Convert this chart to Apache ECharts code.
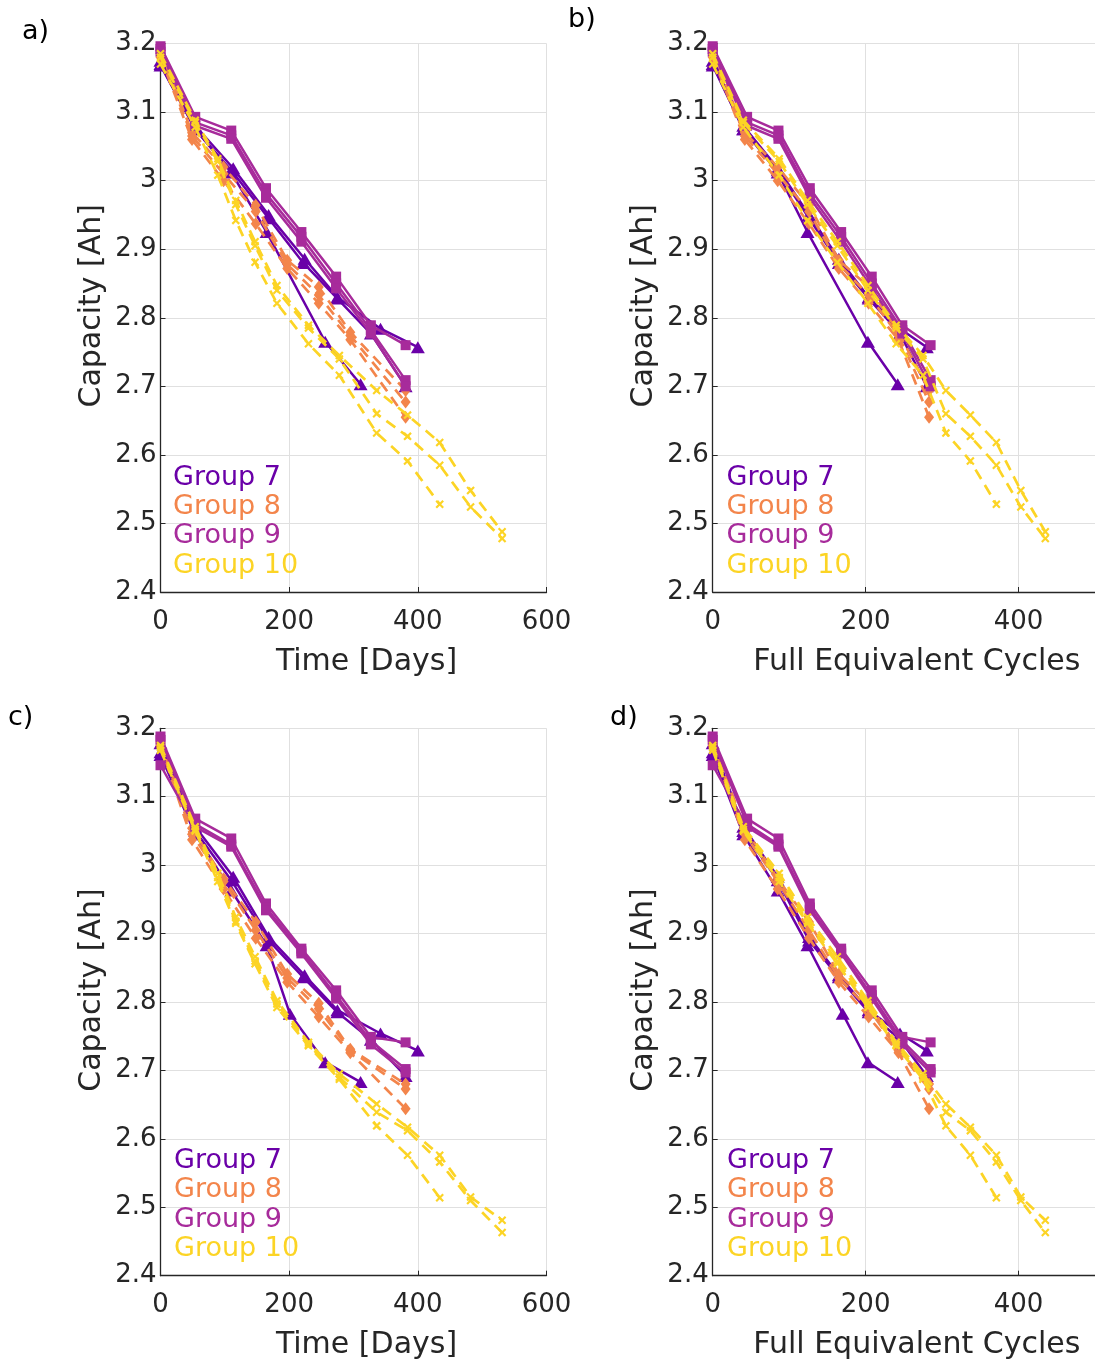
<!DOCTYPE html>
<html>
<head>
<meta charset="utf-8">
<title>Capacity fade</title>
<script src="https://cdn.jsdelivr.net/npm/echarts@6/dist/echarts.min.js"></script>
<style>
  html, body { margin: 0; padding: 0; background: #ffffff; }
  #chart { width: 1095px; height: 1362px; }
</style>
</head>
<body>
<div id="chart"></div>
<script>
// ---- measured data: time in days, full equivalent cycles, capacity [Ah] ----
// capTop feeds the upper row (a, b), capBottom feeds the lower row (c, d)

// Group 7
const g7aDays = [0, 54, 113, 168, 224, 275, 342, 400];
const g7aFec = [0, 40, 85, 126, 165, 204, 245, 280];
const g7aCapTop = [3.175, 3.080, 3.018, 2.950, 2.886, 2.830, 2.784, 2.757];
const g7aCapBottom = [3.178, 3.056, 2.983, 2.895, 2.839, 2.788, 2.754, 2.729];

const g7bDays = [0, 54, 110, 168, 222, 275, 327, 381];
const g7bFec = [0, 40, 85, 126, 165, 204, 245, 280];
const g7bCapTop = [3.170, 3.075, 3.015, 2.945, 2.880, 2.828, 2.777, 2.700];
const g7bCapBottom = [3.165, 3.050, 2.978, 2.890, 2.836, 2.785, 2.745, 2.692];

const g7cDays = [0, 54, 110, 165, 201, 256, 311];
const g7cFec = [0, 40, 85, 124, 170, 203, 242];
const g7cCapTop = [3.168, 3.075, 3.012, 2.925, null, 2.765, 2.703];
const g7cCapBottom = [3.161, 3.045, 2.963, 2.883, 2.783, 2.712, 2.683];

// Group 8
const g8Days = [0, 49, 98, 148, 197, 246, 295, 381];
const g8Fec = [0, 42, 85, 126, 165, 204, 243, 283];
const g8aCapTop = [3.190, 3.070, 3.020, 2.964, 2.884, 2.845, 2.779, 2.694];
const g8bCapTop = [3.185, 3.065, 3.010, 2.955, 2.878, 2.833, 2.774, 2.677];
const g8cCapTop = [3.180, 3.060, 3.000, 2.937, 2.872, 2.821, 2.768, 2.655];
const g8aCapBottom = [3.180, 3.054, 2.980, 2.917, 2.841, 2.798, 2.731, 2.680];
const g8bCapBottom = [3.178, 3.045, 2.976, 2.905, 2.835, 2.790, 2.729, 2.673];
const g8cCapBottom = [3.175, 3.037, 2.965, 2.893, 2.829, 2.778, 2.726, 2.644];

// Group 9
const g9Days = [0, 54, 110, 164, 219, 273, 327, 381];
const g9Fec = [0, 45, 86, 127, 168, 208, 248, 285];
const g9aCapTop = [3.196, 3.093, 3.073, 2.989, 2.925, 2.860, 2.789, 2.760];
const g9bCapTop = [3.192, 3.085, 3.066, 2.981, 2.918, 2.850, 2.782, 2.709];
const g9cCapTop = [3.188, 3.080, 3.061, 2.975, 2.911, 2.843, 2.777, 2.700];
const g9aCapBottom = [3.188, 3.068, 3.039, 2.944, 2.878, 2.817, 2.749, 2.741];
const g9bCapBottom = [3.183, 3.060, 3.030, 2.938, 2.874, 2.810, 2.743, 2.702];
const g9cCapBottom = [3.146, 3.056, 3.027, 2.934, 2.871, 2.805, 2.738, 2.697];

// Group 10
const g10Days = [0, 54, 89, 117, 147, 181, 230, 278, 336, 384, 434, 482, 531];
const g10Fec = [0, 40, 87, 124, 163, 203, 240, 275, 305, 337, 371, 403, 435];
const g10aCapTop = [3.185, 3.088, 3.032, 2.971, 2.911, 2.847, 2.789, 2.745, 2.694, 2.658, 2.618, 2.548, 2.488];
const g10bCapTop = [3.180, 3.085, 3.028, 2.965, 2.905, 2.840, 2.785, 2.740, 2.660, 2.627, 2.585, 2.524, 2.478];
const g10cCapTop = [3.170, 3.078, 3.008, 2.942, 2.881, 2.821, 2.762, 2.716, 2.632, 2.591, 2.528];
const g10aCapBottom = [3.175, 3.056, 2.988, 2.924, 2.866, 2.802, 2.741, 2.695, 2.651, 2.617, 2.576, 2.515, 2.481];
const g10bCapBottom = [3.172, 3.052, 2.982, 2.918, 2.860, 2.797, 2.738, 2.690, 2.639, 2.612, 2.566, 2.510, 2.463];
const g10cCapBottom = [3.168, 3.050, 2.976, 2.915, 2.856, 2.792, 2.736, 2.687, 2.619, 2.576, 2.514];

// axis ranges and tick labels
const groupNames = ['Group 7', 'Group 8', 'Group 9', 'Group 10'];
const capacityTicks = { min: 2.4, max: 3.2, step: 0.1 };
const timeTicks = { min: 0, max: 600, step: 200 };
const fecTicks = { min: 0, max: 500, step: 200 };
const panelLetters = ['a)', 'b)', 'c)', 'd)'];

// ---- cells ----
const cells = [
  { g: 0, days: g7aDays, fec: g7aFec, capTop: g7aCapTop, capBottom: g7aCapBottom },
  { g: 0, days: g7bDays, fec: g7bFec, capTop: g7bCapTop, capBottom: g7bCapBottom },
  { g: 0, days: g7cDays, fec: g7cFec, capTop: g7cCapTop, capBottom: g7cCapBottom },
  { g: 1, days: g8Days, fec: g8Fec, capTop: g8aCapTop, capBottom: g8aCapBottom },
  { g: 1, days: g8Days, fec: g8Fec, capTop: g8bCapTop, capBottom: g8bCapBottom },
  { g: 1, days: g8Days, fec: g8Fec, capTop: g8cCapTop, capBottom: g8cCapBottom },
  { g: 2, days: g9Days, fec: g9Fec, capTop: g9aCapTop, capBottom: g9aCapBottom },
  { g: 2, days: g9Days, fec: g9Fec, capTop: g9bCapTop, capBottom: g9bCapBottom },
  { g: 2, days: g9Days, fec: g9Fec, capTop: g9cCapTop, capBottom: g9cCapBottom },
  { g: 3, days: g10Days, fec: g10Fec, capTop: g10aCapTop, capBottom: g10aCapBottom },
  { g: 3, days: g10Days, fec: g10Fec, capTop: g10bCapTop, capBottom: g10bCapBottom },
  { g: 3, days: g10Days, fec: g10Fec, capTop: g10cCapTop, capBottom: g10cCapBottom }
];

// ---- styling ----
const FONT = '"DejaVu Sans", "Noto Sans", sans-serif';
const INK = '#262626';
const crossPath = 'path://M0,1.8 L1.8,0 L5,3.2 L8.2,0 L10,1.8 L6.8,5 L10,8.2 L8.2,10 L5,6.8 L1.8,10 L0,8.2 L3.2,5 Z';
const groupStyles = [
  { color: '#6a00a8', symbol: 'triangle', size: [14, 12], dashed: false },
  { color: '#f3854b', symbol: 'diamond', size: [10, 13], dashed: true },
  { color: '#a72b9b', symbol: 'rect', size: 10, dashed: false },
  { color: '#fcd425', symbol: crossPath, size: 8.5, dashed: true }
];

// plot areas in pixels
const panels = [
  { left: 160.5, top: 43.5, width: 386, height: 548.5, x: 'days', cap: 'capTop', xt: timeTicks, xName: 'Time [Days]' },
  { left: 712.7, top: 43.5, width: 386.3, height: 548.5, x: 'fec', cap: 'capTop', xt: fecTicks, xName: 'Full Equivalent Cycles' },
  { left: 160.5, top: 728.3, width: 386, height: 547.4, x: 'days', cap: 'capBottom', xt: timeTicks, xName: 'Time [Days]' },
  { left: 712.7, top: 728.3, width: 386.3, height: 547.4, x: 'fec', cap: 'capBottom', xt: fecTicks, xName: 'Full Equivalent Cycles' }
];
const letterPos = [[22, 32], [568, 20], [8, 718], [610, 718]];
const legendLeft = [173, 726.5, 174, 727];
const legendTop = [477.5, 477.5, 1161, 1161];
const legendStep = 29.4;

const grids = [], xAxes = [], yAxes = [], series = [], graphics = [];

panels.forEach(function (p, i) {
  grids.push({ left: p.left, top: p.top, width: p.width, height: p.height, containLabel: false });
  xAxes.push({
    gridIndex: i, type: 'value', min: p.xt.min, max: p.xt.max, interval: p.xt.step,
    axisLine: { show: true, onZero: false, lineStyle: { color: INK, width: 1.3 } },
    axisTick: { show: true, inside: true, length: 5, lineStyle: { color: INK, width: 1 } },
    axisLabel: { fontSize: 26, color: INK, fontFamily: FONT, margin: 17, showMaxLabel: p.x === 'days' },
    splitLine: { show: true, lineStyle: { color: '#e0e0e0', width: 1 } },
    name: p.xName, nameLocation: 'middle', nameGap: 55,
    nameTextStyle: { fontSize: 30, color: INK, fontFamily: FONT, padding: [0, 0, 0, 26] }
  });
  yAxes.push({
    gridIndex: i, type: 'value', min: capacityTicks.min, max: capacityTicks.max, interval: capacityTicks.step,
    axisLine: { show: true, onZero: false, lineStyle: { color: INK, width: 1.3 } },
    axisTick: { show: true, inside: true, length: 5, lineStyle: { color: INK, width: 1 } },
    axisLabel: { fontSize: 26, color: INK, fontFamily: FONT, margin: 4, padding: [3, 0, 0, 0] },
    splitLine: { show: true, lineStyle: { color: '#e0e0e0', width: 1 } },
    name: 'Capacity [Ah]', nameLocation: 'middle', nameGap: 53,
    nameTextStyle: { fontSize: 30, color: INK, fontFamily: FONT, padding: [0, 0, 0, 24] }
  });

  cells.forEach(function (c) {
    const st = groupStyles[c.g];
    const xs = c[p.x], ys = c[p.cap];
    const pts = [];
    for (let k = 0; k < ys.length; k++) {
      if (ys[k] !== null) pts.push([xs[k], ys[k]]);
    }
    series.push({
      type: 'line', name: groupNames[c.g], xAxisIndex: i, yAxisIndex: i,
      data: pts, symbol: st.symbol, symbolSize: st.size, showAllSymbol: true,
      itemStyle: { color: st.color, opacity: 1 },
      lineStyle: { color: st.color, width: st.dashed ? 2.7 : 2.5, type: st.dashed ? [11, 7] : 'solid' },
      animation: false, silent: true, z: 2 + c.g
    });
  });

  graphics.push({
    type: 'text', x: letterPos[i][0], y: letterPos[i][1],
    style: { text: panelLetters[i], fill: '#000000', font: '27px ' + FONT, verticalAlign: 'middle', align: 'left' }
  });
  groupNames.forEach(function (n, gi) {
    graphics.push({
      type: 'text', x: legendLeft[i], y: legendTop[i] + gi * legendStep, z: 100,
      style: { text: n, fill: groupStyles[gi].color, font: '27px ' + FONT, verticalAlign: 'middle', align: 'left' }
    });
  });
});

const chart = echarts.init(document.getElementById('chart'), null, { renderer: 'canvas' });
chart.setOption({
  backgroundColor: '#ffffff',
  animation: false,
  textStyle: { fontFamily: FONT },
  grid: grids,
  xAxis: xAxes,
  yAxis: yAxes,
  series: series,
  graphic: graphics
});
</script>
</body>
</html>
